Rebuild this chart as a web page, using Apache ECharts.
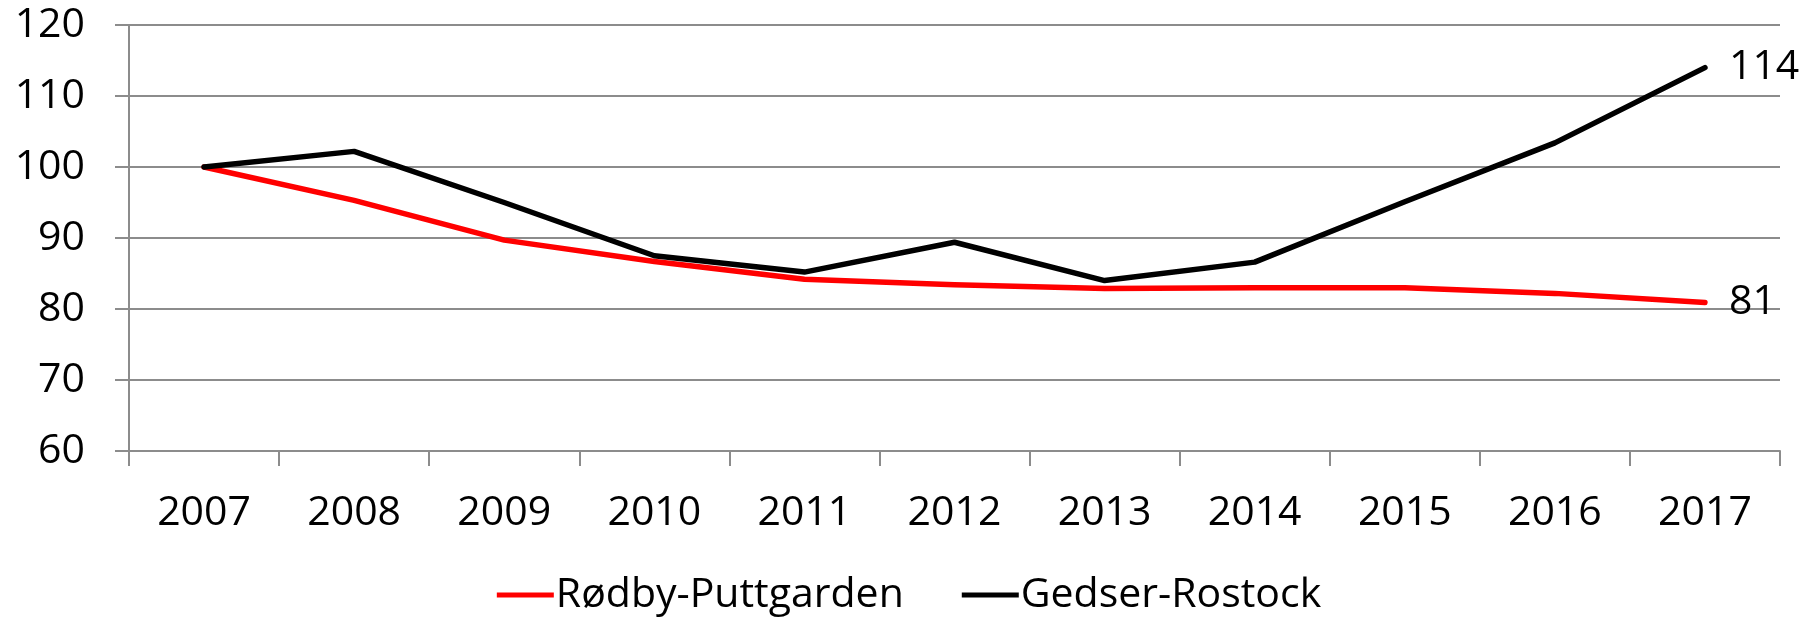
<!DOCTYPE html>
<html>
<head>
<meta charset="utf-8">
<script src="https://cdn.jsdelivr.net/npm/echarts@6/dist/echarts.min.js"></script>
<style>
html,body{margin:0;padding:0;background:#fff;}
#chart{width:1818px;height:617px;}
</style>
</head>
<body>
<div id="chart"></div>
<script>
const categories = ['2007','2008','2009','2010','2011','2012','2013','2014','2015','2016','2017'];
const seriesNames = ['Rødby-Puttgarden', 'Gedser-Rostock'];
const rodbyValues = [100, 95.3, 89.7, 86.7, 84.2, 83.4, 82.9, 83.0, 83.0, 82.2, 80.9];
const gedserValues = [100, 102.2, 95.0, 87.5, 85.2, 89.4, 84.0, 86.6, 95.1, 103.4, 114.0];
const yTicks = {min: 60, max: 120, interval: 10};

const FONT = 'Open Sans';
const GRAY = '#8c8c8c';

const endLabel = {
  show: true,
  distance: 24,
  fontFamily: FONT,
  fontSize: 41,
  color: '#000',
  formatter: p => String(Math.round(p.value))
};

const chart = echarts.init(document.getElementById('chart'), null, {renderer: 'canvas'});
chart.setOption({
  animation: false,
  backgroundColor: '#ffffff',
  textStyle: {fontFamily: FONT},
  grid: {left: 129, right: 38, top: 25, bottom: 166, containLabel: false},
  legend: {
    top: 568,
    left: 'center',
    itemWidth: 57,
    itemHeight: 5,
    itemGap: 58,
    icon: 'rect',
    textStyle: {fontFamily: FONT, fontSize: 41, color: '#000', lineHeight: 44, padding: [0,0,0,-3]},
    data: seriesNames
  },
  xAxis: {
    type: 'category',
    data: categories,
    boundaryGap: true,
    axisLine: {show: true, lineStyle: {color: GRAY, width: 2}},
    axisTick: {show: true, length: 15, lineStyle: {color: GRAY, width: 2}},
    axisLabel: {fontFamily: FONT, fontSize: 41, color: '#000', margin: 42},
    splitLine: {show: false}
  },
  yAxis: {
    type: 'value',
    min: yTicks.min,
    max: yTicks.max,
    interval: yTicks.interval,
    axisLine: {show: true, lineStyle: {color: GRAY, width: 2}},
    axisTick: {show: true, length: 14, lineStyle: {color: GRAY, width: 2}},
    axisLabel: {fontFamily: FONT, fontSize: 41, color: '#000', margin: 44},
    splitLine: {show: true, lineStyle: {color: GRAY, width: 2}}
  },
  series: [
    {
      name: seriesNames[0],
      type: 'line',
      data: rodbyValues,
      symbol: 'none',
      color: '#ff0000',
      lineStyle: {color: '#ff0000', width: 5.5, cap: 'round', join: 'round'},
      endLabel: endLabel
    },
    {
      name: seriesNames[1],
      type: 'line',
      data: gedserValues,
      symbol: 'none',
      color: '#000000',
      lineStyle: {color: '#000000', width: 5.5, cap: 'round', join: 'round'},
      endLabel: endLabel
    }
  ]
});
</script>
</body>
</html>
